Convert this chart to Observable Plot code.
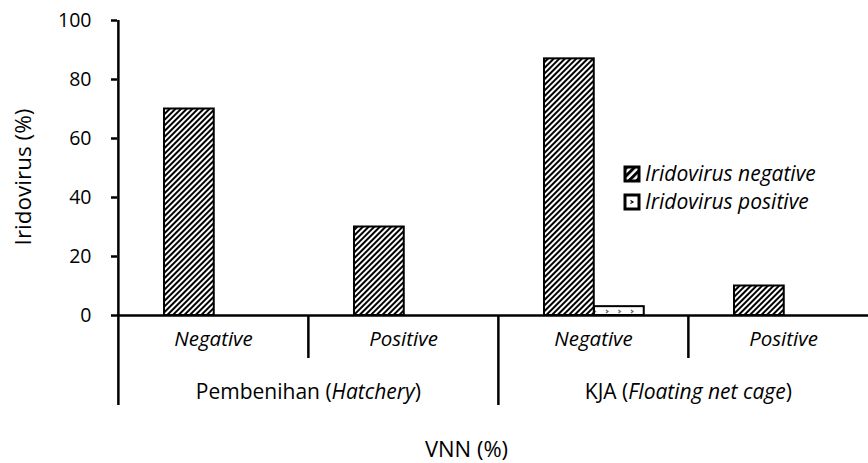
<!DOCTYPE html>
<html><head><meta charset="utf-8">
<script src="https://cdn.jsdelivr.net/npm/d3@7"></script>
<script src="https://cdn.jsdelivr.net/npm/@observablehq/plot@0.6"></script>
<style>body{margin:0;background:#fff} #chart svg{overflow:visible}</style>
</head><body><div id="chart"></div>
<script>
const groups = ["Pembenihan (Hatchery)", "KJA (Floating net cage)"];
const groupItalic = ["Hatchery", "Floating net cage"];
const vnnStatus = ["Negative", "Positive"];
const series = ["Iridovirus negative", "Iridovirus positive"];
const iridoNegative = [70, 30, 87, 10];
const iridoPositive = [0, 0, 3, 0];
const yTicks = [0, 20, 40, 60, 80, 100];
const yTitle = "Iridovirus (%)";
const xTitle = "VNN (%)";

const cats = groups.flatMap(g => vnnStatus.map(v => g + "|" + v));
const data = cats.flatMap((c, i) => [
  {cat: c, series: series[0], value: iridoNegative[i]},
  {cat: c, series: series[1], value: iridoPositive[i]}
]).filter(d => d.value > 0);

const W = 868, H = 463;
const x0 = 117, x1 = 878, yBase = 315, yTop = 20;
const bw = (x1 - x0) / cats.length;
const font = "'Open Sans', sans-serif";
const yPerUnit = (yBase - yTop) / 100;

const chart = Plot.plot({
  width: W, height: H,
  marginLeft: x0, marginRight: 0, marginTop: yTop, marginBottom: H - yBase,
  style: {fontFamily: font, fontSize: "19px", color: "#000", background: "#fff"},
  x: {type: "band", domain: cats, range: [x0, x1], padding: 0},
  y: {domain: [0, 100], range: [yBase, yTop]},
  marks: [
    Plot.barY(data.filter(d => d.series === series[0]), {
      x: "cat", y: "value", fill: "url(#hatchNeg)", stroke: "#000", strokeWidth: 2,
      insetLeft: 46, insetRight: bw - 96
    }),
    Plot.barY(data.filter(d => d.series === series[1]), {
      x: "cat", y: "value", fill: "url(#dotsPos)", stroke: "#000", strokeWidth: 2,
      insetLeft: 96, insetRight: bw - 146
    }),
    Plot.ruleY([0], {stroke: "#000", strokeWidth: 2.5}),
    // left axis line, down through category labels
    Plot.ruleX([cats[0]], {x: d => d, dx: -bw / 2, y1: -90 / yPerUnit, y2: 100, stroke: "#000", strokeWidth: 2.5}),
    // separators within groups
    Plot.ruleX([cats[1], cats[3]], {x: d => d, dx: -bw / 2, y1: 0, y2: -43 / yPerUnit, stroke: "#000", strokeWidth: 2.5}),
    // separator between groups
    Plot.ruleX([cats[2]], {x: d => d, dx: -bw / 2, y1: 0, y2: -90 / yPerUnit, stroke: "#000", strokeWidth: 2.5}),
    Plot.axisY({ticks: yTicks, tickSize: 6, tickPadding: 20, strokeWidth: 2.5, fontSize: 19.5, label: null}),
    Plot.axisX({tickSize: 0, tickPadding: 16, tickFormat: d => d.split("|")[1], fontStyle: "italic", fontSize: 20.5, label: null}),
    Plot.text(groups, {x: (d) => d + "|Positive", dx: -bw / 2, y: 0, dy: 77, text: d => d, fontSize: 21, lineAnchor: "middle"}),
    Plot.text([xTitle], {frameAnchor: "bottom", dx: -26.5, dy: 134, fontSize: 22, lineAnchor: "middle"})
  ]
});

const svg = d3.select(chart);
const defs = svg.insert("defs", ":first-child");
const hp = defs.append("pattern").attr("id", "hatchNeg").attr("patternUnits", "userSpaceOnUse")
  .attr("width", 4).attr("height", 4).attr("patternTransform", "rotate(45)");
hp.append("rect").attr("width", 4).attr("height", 4).attr("fill", "#fff");
hp.append("line").attr("x1", 1).attr("y1", 0).attr("x2", 1).attr("y2", 4).attr("stroke", "#000").attr("stroke-width", 2);
const hl = defs.append("pattern").attr("id", "hatchLeg").attr("patternUnits", "userSpaceOnUse")
  .attr("width", 5.5).attr("height", 5.5).attr("patternTransform", "rotate(45)");
hl.append("rect").attr("width", 5.5).attr("height", 5.5).attr("fill", "#fff");
hl.append("line").attr("x1", 1.5).attr("y1", 0).attr("x2", 1.5).attr("y2", 5.5).attr("stroke", "#000").attr("stroke-width", 3);
const dp = defs.append("pattern").attr("id", "dotsPos").attr("patternUnits", "userSpaceOnUse")
  .attr("width", 12.5).attr("height", 9).attr("x", 3).attr("y", 1);
dp.append("rect").attr("width", 12.5).attr("height", 9).attr("fill", "#fff");
dp.append("path").attr("d", "M3,3 L5,4.5 L3,6").attr("fill", "none").attr("stroke", "#555").attr("stroke-width", 1);

// mixed italic group labels
svg.selectAll("text").each(function() {
  const t = this.textContent;
  const gi = groups.indexOf(t);
  if (gi >= 0) {
    const it = groupItalic[gi];
    const [a, b] = t.split(it);
    const el = d3.select(this);
    el.text(null);
    el.append("tspan").text(a);
    el.append("tspan").attr("font-style", "italic").text(it);
    el.append("tspan").text(b);
  }
});

// y-axis title
svg.append("text").attr("transform", "translate(23,177) rotate(-90)")
  .attr("font-family", font).attr("font-size", 22.5).attr("text-anchor", "middle")
  .attr("dy", "0.35em").attr("fill", "#000").text(yTitle);

// legend
const lg = svg.append("g").attr("font-family", font).attr("font-size", 21).attr("font-style", "italic").attr("text-anchor", "start");
series.forEach((s, i) => {
  const g = lg.append("g").attr("transform", `translate(625,${167 + i * 28})`);
  g.append("rect").attr("width", 14).attr("height", 14).attr("fill", i === 0 ? "url(#hatchLeg)" : "#fff").attr("stroke", "#000").attr("stroke-width", 3);
  if (i === 1) g.append("path").attr("d", "M5.5,5.5 L8,7 L5.5,8.5").attr("fill", "none").attr("stroke", "#000").attr("stroke-width", 1.2);
  g.append("text").attr("x", 20).attr("y", 7).attr("dy", "0.35em").text(s);
});

document.getElementById("chart").append(chart);
</script>
</body></html>
